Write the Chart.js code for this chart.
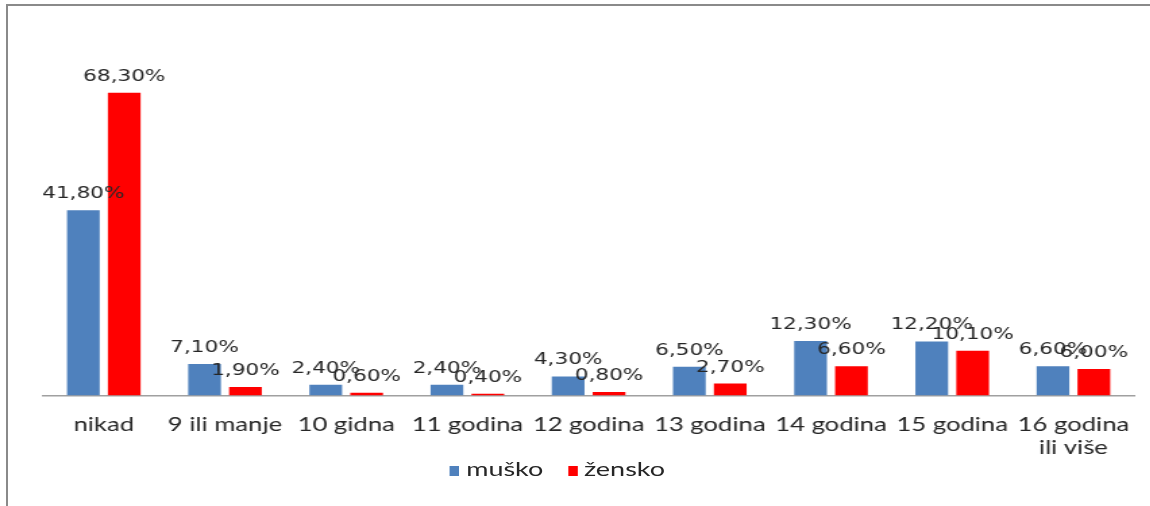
<!DOCTYPE html>
<html lang="hr">
<head>
  <meta charset="UTF-8" />
  <title>Grafikon</title>
  <script src="https://cdn.jsdelivr.net/npm/chart.js"></script>
  <style>
    html, body {
      margin: 0;
      padding: 0;
      background: #ffffff;
      width: 1150px;
      height: 506px;
      overflow: hidden;
    }
    /* okvir grafikona */
    .okvir {
      position: absolute;
      left: 6px;
      top: 4px;
      width: 1150px;
      height: 520px;
      border-left: 2px solid #8a8a8a;
      border-top: 2px solid #8a8a8a;
      box-sizing: border-box;
    }
    /* originalna slika je razvučena po širini */
    .omot {
      position: absolute;
      left: 0;
      top: 0;
      width: 852px;
      height: 506px;
      transform: scaleX(1.35);
      transform-origin: 0 0;
    }
    #legenda {
      position: absolute;
      left: 0;
      width: 826px;
      top: 456px;
      text-align: center;
      font-family: Lato, sans-serif;
      font-size: 20px;
      line-height: 24px;
      color: #262626;
    }
    #legenda span.stavka {
      display: inline-block;
      margin: 0 9px;
    }
    #legenda i {
      display: inline-block;
      width: 7px;
      height: 10px;
      margin-right: 5px;
    }
  </style>
</head>
<body>
  <div class="omot">
    <canvas id="grafikon" width="852" height="506"></canvas>
    <div id="legenda"></div>
  </div>
  <div class="okvir"></div>

  <script>
    const kategorije = [
      "nikad", "9 ili manje", "10 gidna", "11 godina", "12 godina",
      "13 godina", "14 godina", "15 godina", ["16 godina", "ili više"]
    ];
    const musko = [41.8, 7.1, 2.4, 2.4, 4.3, 6.5, 12.3, 12.2, 6.6];
    const zensko = [68.3, 1.9, 0.6, 0.4, 0.8, 2.7, 6.6, 10.1, 6.0];

    const bojaTeksta = "#262626";

    // oznake vrijednosti iznad stupaca
    const oznake = {
      id: "oznake",
      afterDatasetsDraw(chart) {
        const ctx = chart.ctx;
        ctx.save();
        ctx.font = "16px 'DejaVu Sans'";
        ctx.fillStyle = bojaTeksta;
        ctx.textAlign = "center";
        ctx.textBaseline = "alphabetic";
        chart.data.datasets.forEach((ds, i) => {
          chart.getDatasetMeta(i).data.forEach((bar, j) => {
            const txt = ds.data[j].toFixed(2).replace(".", ",") + "%";
            ctx.fillText(txt, bar.x, bar.y - 12);
          });
        });
        ctx.restore();
      }
    };

    const ctx = document.getElementById("grafikon").getContext("2d");
    const chart = new Chart(ctx, {
      type: "bar",
      data: {
        labels: kategorije,
        datasets: [
          {
            label: "muško",
            data: musko,
            backgroundColor: "#4F81BD",
            categoryPercentage: 0.675,
            barPercentage: 0.8
          },
          {
            label: "žensko",
            data: zensko,
            backgroundColor: "#FF0000",
            categoryPercentage: 0.675,
            barPercentage: 0.8
          }
        ]
      },
      options: {
        responsive: false,
        animation: false,
        devicePixelRatio: 1,
        layout: {
          padding: { top: 41, left: 32, right: 12, bottom: 37 }
        },
        plugins: {
          title: { display: false },
          tooltip: { enabled: false },
          legend: { display: false }
        },
        scales: {
          x: {
            grid: { display: false },
            border: { display: true, color: "#a0a0a0", width: 1.5 },
            ticks: {
              color: bojaTeksta,
              padding: 9,
              maxRotation: 0,
              autoSkip: false,
              font: { family: "Lato", size: 19, lineHeight: 1.25 }
            }
          },
          y: {
            display: false,
            min: 0,
            max: 80
          }
        }
      },
      plugins: [oznake]
    });

    // legenda iz skupova podataka
    document.getElementById("legenda").innerHTML = chart.data.datasets
      .map(ds => `<span class="stavka"><i style="background:${ds.backgroundColor}"></i>${ds.label}</span>`)
      .join("");
  </script>
</body>
</html>
